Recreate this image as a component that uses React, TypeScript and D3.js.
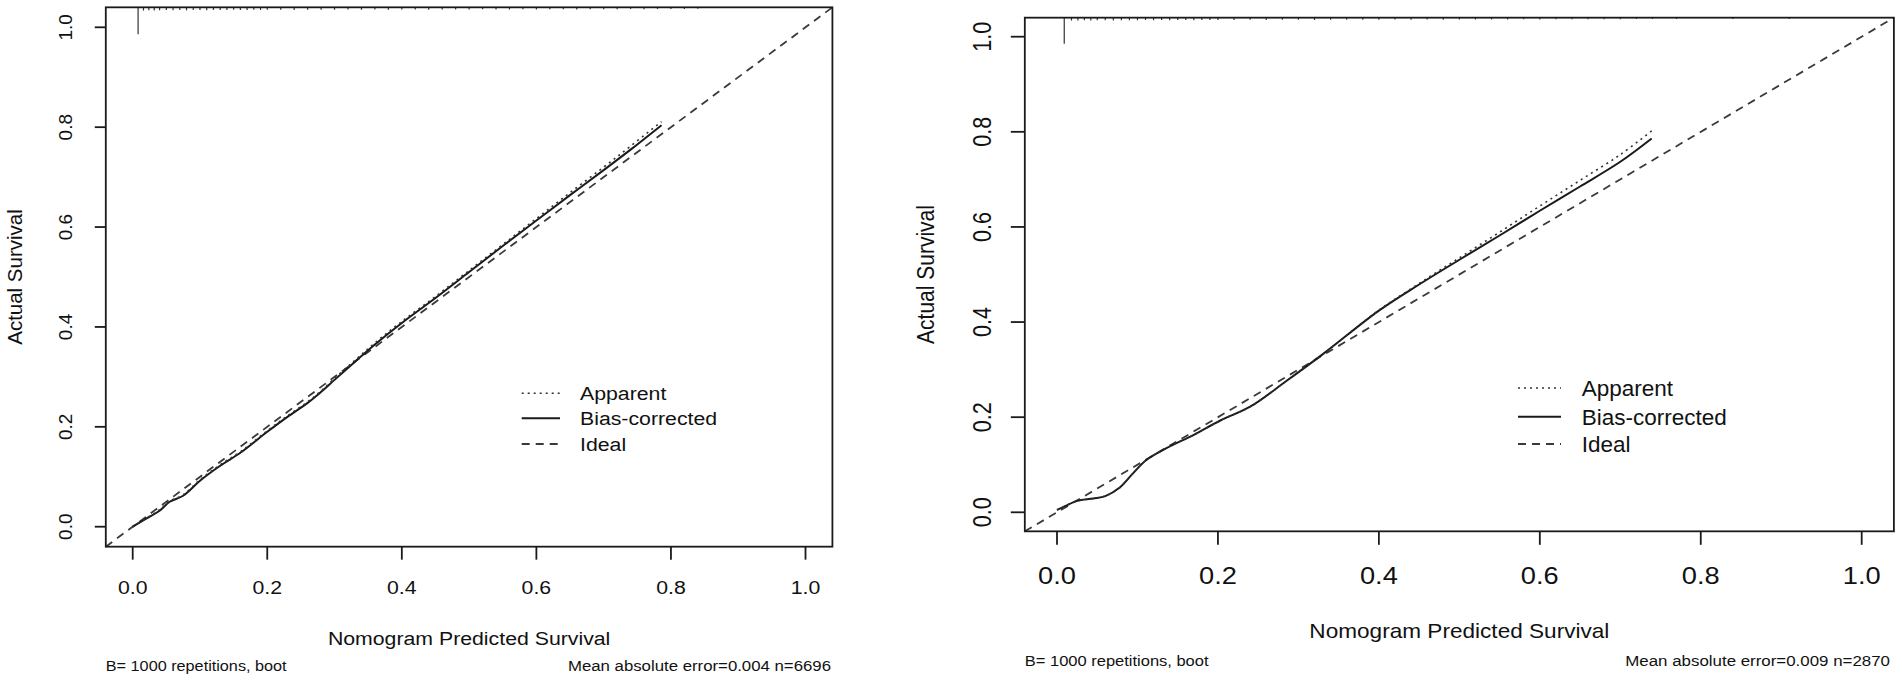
import React from "react";
import * as d3 from "d3";

// ---------------- data ----------------
const tickValues = [0, 0.2, 0.4, 0.6, 0.8, 1.0];
const tickLabels = ["0.0", "0.2", "0.4", "0.6", "0.8", "1.0"];
const legendLabels = ["Apparent", "Bias-corrected", "Ideal"];
const xTitle = "Nomogram Predicted Survival";
const yTitle = "Actual Survival";
const subLeft = "B= 1000 repetitions, boot";

// left panel
const leftX = [0, 0.02, 0.04, 0.055, 0.075, 0.1, 0.13, 0.16, 0.2, 0.23, 0.26, 0.28, 0.3, 0.33, 0.36, 0.4, 0.45, 0.5, 0.55, 0.6, 0.65, 0.7, 0.74, 0.786];
const leftBias = [0, 0.016, 0.032, 0.05, 0.062, 0.092, 0.122, 0.148, 0.19, 0.22, 0.248, 0.27, 0.294, 0.33, 0.365, 0.408, 0.458, 0.51, 0.562, 0.613, 0.664, 0.714, 0.755, 0.804];
const leftApparent = [0, 0.017, 0.034, 0.051, 0.064, 0.094, 0.124, 0.15, 0.192, 0.222, 0.25, 0.272, 0.297, 0.333, 0.368, 0.411, 0.461, 0.513, 0.565, 0.617, 0.669, 0.72, 0.762, 0.811];
const leftRiskX = [0.008, 0.016, 0.024, 0.032, 0.04, 0.05, 0.06, 0.07, 0.08, 0.09, 0.1, 0.11, 0.12, 0.13, 0.14, 0.15, 0.16, 0.17, 0.18, 0.19, 0.2, 0.22, 0.24, 0.26, 0.28, 0.3, 0.32, 0.34, 0.36, 0.38, 0.4, 0.42, 0.44, 0.46, 0.48, 0.5, 0.52, 0.54, 0.56, 0.58, 0.6, 0.62, 0.64, 0.66, 0.68, 0.7, 0.72, 0.74, 0.76, 0.78, 0.8, 0.82, 0.84];
const leftRiskCount = [100, 12, 11, 12, 11, 10, 11, 10, 11, 10, 10, 11, 10, 10, 10, 9, 10, 10, 9, 10, 9, 9, 10, 9, 9, 9, 8, 9, 8, 9, 8, 8, 9, 8, 8, 8, 7, 8, 8, 7, 8, 7, 7, 8, 7, 7, 7, 6, 7, 6, 6, 6, 5];
const leftMAE = "Mean absolute error=0.004 n=6696";

// right panel
const rightX = [0, 0.01, 0.025, 0.045, 0.06, 0.078, 0.095, 0.111, 0.136, 0.17, 0.203, 0.24, 0.285, 0.33, 0.4, 0.45, 0.5, 0.55, 0.6, 0.65, 0.7, 0.739];
const rightBias = [0.005, 0.013, 0.024, 0.029, 0.034, 0.052, 0.083, 0.11, 0.135, 0.163, 0.193, 0.222, 0.276, 0.332, 0.424, 0.479, 0.531, 0.582, 0.634, 0.685, 0.737, 0.786];
const rightApparent = [0.005, 0.013, 0.024, 0.029, 0.034, 0.052, 0.083, 0.11, 0.135, 0.163, 0.193, 0.222, 0.276, 0.332, 0.425, 0.481, 0.535, 0.589, 0.644, 0.698, 0.752, 0.802];
const rightRiskX = [0.009, 0.018, 0.026, 0.034, 0.042, 0.05, 0.06, 0.07, 0.08, 0.09, 0.1, 0.11, 0.12, 0.13, 0.14, 0.15, 0.16, 0.17, 0.18, 0.19, 0.2, 0.22, 0.24, 0.26, 0.28, 0.3, 0.32, 0.34, 0.36, 0.38, 0.4, 0.42, 0.44, 0.46, 0.48, 0.5, 0.52, 0.54, 0.56, 0.58, 0.6, 0.62, 0.64, 0.66, 0.68, 0.7, 0.72, 0.74, 0.77, 0.84, 0.91];
const rightRiskCount = [100, 11, 11, 10, 11, 10, 10, 11, 10, 10, 10, 9, 10, 9, 10, 9, 9, 10, 9, 9, 9, 9, 8, 9, 8, 8, 9, 8, 8, 8, 8, 7, 8, 7, 8, 7, 7, 7, 7, 6, 7, 6, 6, 6, 6, 6, 5, 5, 5, 5, 5];
const rightMAE = "Mean absolute error=0.009 n=2870";

// ---------------- rendering ----------------
const FONT = "'Liberation Sans', Arial, Helvetica, sans-serif";
const INK = "#1a1a1a";

type TxtProps = {
  x: number; y: number; rot?: number; fs: number; sx?: number; sy?: number;
  anchor?: "start" | "middle" | "end"; children: React.ReactNode;
};
function Txt({ x, y, rot = 0, fs, sx = 1, sy = 1, anchor = "middle", children }: TxtProps) {
  return (
    <text
      transform={`translate(${x},${y}) rotate(${rot}) scale(${sx},${sy})`}
      fontSize={fs}
      fontFamily={FONT}
      textAnchor={anchor}
      fill="#111"
    >
      {children}
    </text>
  );
}

type Layout = {
  x0px: number; x1px: number; y0px: number; y1px: number; // pixel positions for value 0 and 1
  xTickLen: number; yTickLen: number;
  xLabY: number; xLabFs: number; xLabSx: number;
  yLabX: number; yLabFs: number; yLabSy: number;
  titleY: number; titleFs: number; titleSx: number;
  yTitleX: number; yTitleFs: number; yTitleSy: number;
  subY: number; subFs: number; subSx: number; maeFs: number; maeSx: number; maeX: number;
  legL0: number; legL1: number; legTx: number; legRows: number[]; legFs: number; legSx: number;
  rugMax: number;
};

type PanelProps = {
  L: Layout; xs: number[]; bias: number[]; app: number[];
  riskX: number[]; riskCount: number[]; mae: string;
};

function Panel({ L, xs, bias, app, riskX, riskCount, mae }: PanelProps) {
  const x = d3.scaleLinear().domain([0, 1]).range([L.x0px, L.x1px]);
  const y = d3.scaleLinear().domain([0, 1]).range([L.y0px, L.y1px]);
  const lo = -0.04, hi = 1.04;
  const bx0 = x(lo), bx1 = x(hi), by0 = y(lo), by1 = y(hi);
  const rug = d3.scaleLinear().domain([0, 100]).range([0, L.rugMax]);

  const line = d3
    .line<number>()
    .x((_, i) => x(xs[i]))
    .y((d) => y(d))
    .curve(d3.curveCatmullRom.alpha(0.5));

  const lw = 1.8;
  const styles = [
    { dash: "2,4", w: 1.6, color: "#333" },
    { dash: "none", w: 2, color: INK },
    { dash: "8,6", w: 1.8, color: "#3a3a3a" },
  ];

  return (
    <g>
      {/* ideal line */}
      <line x1={x(lo)} y1={y(lo)} x2={x(hi)} y2={y(hi)} stroke={styles[2].color} strokeWidth={styles[2].w} strokeDasharray={styles[2].dash} />
      {/* bias-corrected */}
      <path d={line(bias) || ""} fill="none" stroke={styles[1].color} strokeWidth={styles[1].w} />
      {/* apparent */}
      <path d={line(app) || ""} fill="none" stroke={styles[0].color} strokeWidth={styles[0].w} strokeDasharray={styles[0].dash} />

      {/* risk distribution at top */}
      {riskX.map((v, i) => (
        <line key={i} x1={x(v)} x2={x(v)} y1={by1} y2={by1 + rug(riskCount[i])} stroke="#333" strokeWidth={1.2} />
      ))}

      {/* box */}
      <rect x={bx0} y={by1} width={bx1 - bx0} height={by0 - by1} fill="none" stroke={INK} strokeWidth={lw} />

      {/* x axis */}
      {tickValues.map((t, i) => (
        <g key={"xt" + i}>
          <line x1={x(t)} x2={x(t)} y1={by0} y2={by0 + L.xTickLen} stroke={INK} strokeWidth={lw} />
          <Txt x={x(t)} y={L.xLabY} fs={L.xLabFs} sx={L.xLabSx}>{tickLabels[i]}</Txt>
        </g>
      ))}
      {/* y axis */}
      {tickValues.map((t, i) => (
        <g key={"yt" + i}>
          <line x1={bx0 - L.yTickLen} x2={bx0} y1={y(t)} y2={y(t)} stroke={INK} strokeWidth={lw} />
          <Txt x={L.yLabX} y={y(t)} rot={-90} fs={L.yLabFs} sy={L.yLabSy}>{tickLabels[i]}</Txt>
        </g>
      ))}

      {/* titles */}
      <Txt x={(bx0 + bx1) / 2} y={L.titleY} fs={L.titleFs} sx={L.titleSx}>{xTitle}</Txt>
      <Txt x={L.yTitleX} y={(by0 + by1) / 2} rot={-90} fs={L.yTitleFs} sy={L.yTitleSy}>{yTitle}</Txt>

      {/* subtitles */}
      <Txt x={bx0} y={L.subY} fs={L.subFs} sx={L.subSx} anchor="start">{subLeft}</Txt>
      <Txt x={L.maeX} y={L.subY} fs={L.maeFs} sx={L.maeSx} anchor="end">{mae}</Txt>

      {/* legend */}
      {legendLabels.map((lab, i) => (
        <g key={"lg" + i}>
          <line x1={L.legL0} x2={L.legL1} y1={L.legRows[i]} y2={L.legRows[i]} stroke={styles[i].color} strokeWidth={styles[i].w} strokeDasharray={styles[i].dash} />
          <Txt x={L.legTx} y={L.legRows[i] + L.legFs * 0.36} fs={L.legFs} sx={L.legSx} anchor="start">{lab}</Txt>
        </g>
      ))}
    </g>
  );
}

const leftLayout: Layout = {
  x0px: 132.7, x1px: 805.5, y0px: 526.7, y1px: 27.3,
  xTickLen: 13, yTickLen: 11,
  xLabY: 594, xLabFs: 19, xLabSx: 1.12,
  yLabX: 72, yLabFs: 19, yLabSy: 1.0,
  titleY: 645, titleFs: 19, titleSx: 1.12,
  yTitleX: 22, yTitleFs: 20.5, yTitleSy: 1.0,
  subY: 671, subFs: 14.5, subSx: 1.12, maeFs: 15, maeSx: 1.12, maeX: 831,
  legL0: 521.7, legL1: 560, legTx: 580, legRows: [393.3, 418.3, 444], legFs: 19, legSx: 1.12,
  rugMax: 27,
};

const rightLayout: Layout = {
  x0px: 1057, x1px: 1861.7, y0px: 512.3, y1px: 36.7,
  xTickLen: 13.5, yTickLen: 14,
  xLabY: 583.5, xLabFs: 23.5, xLabSx: 1.16,
  yLabX: 991, yLabFs: 21.6, yLabSy: 1.18,
  titleY: 638, titleFs: 20, titleSx: 1.13,
  yTitleX: 934, yTitleFs: 21, yTitleSy: 1.15,
  subY: 666, subFs: 15, subSx: 1.1, maeFs: 15.5, maeSx: 1.09, maeX: 1890,
  legL0: 1518, legL1: 1561, legTx: 1581.7, legRows: [388, 416.7, 444], legFs: 22.5, legSx: 1.0,
  rugMax: 26,
};

export default function App() {
  return (
    <svg
      width={1902}
      height={682}
      viewBox="0 0 1902 682"
      style={{ position: "absolute", left: 0, top: 0, display: "block", background: "#fff" }}
    >
      <rect x={0} y={0} width={1902} height={682} fill="#fff" />
      <Panel L={leftLayout} xs={leftX} bias={leftBias} app={leftApparent} riskX={leftRiskX} riskCount={leftRiskCount} mae={leftMAE} />
      <Panel L={rightLayout} xs={rightX} bias={rightBias} app={rightApparent} riskX={rightRiskX} riskCount={rightRiskCount} mae={rightMAE} />
    </svg>
  );
}
